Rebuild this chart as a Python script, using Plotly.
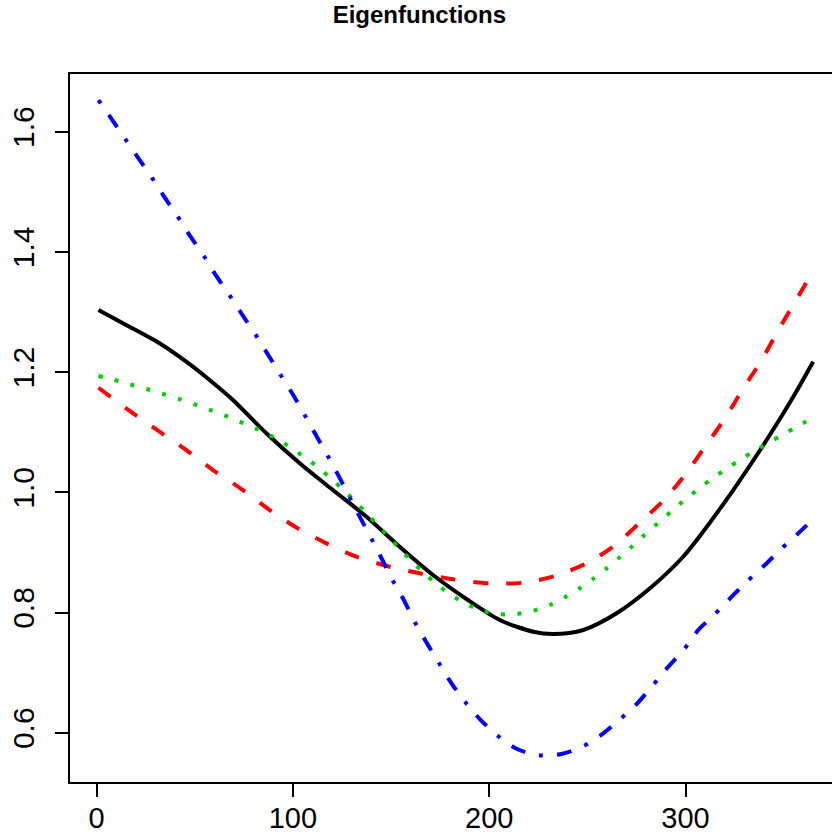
import plotly.graph_objects as go

# ---- data ----
black_x = [1, 15.1, 32.1, 45.7, 57.6, 69.5, 86.5, 103.5, 120.4, 137.5, 154.4, 171.4, 188.4,
           205.4, 222.4, 232.6, 247.9, 264.9, 281.9, 298.8, 307.3, 324.3, 341.3, 354.9, 365]
black_y = [1.3033, 1.2784, 1.2479, 1.2173, 1.1869, 1.1536, 1.0982, 1.0483, 1.0038, 0.9594,
           0.9095, 0.8624, 0.8225, 0.7875, 0.7681, 0.7642, 0.7709, 0.7987, 0.8403, 0.8928,
           0.9273, 1.0038, 1.0870, 1.1591, 1.2173]

red_x = [1, 15.1, 32.1, 45.7, 59.3, 74.6, 88.2, 101.8, 117.1, 132.4, 149.3, 164.6, 181.6,
         200.3, 217.3, 233.4, 249.6, 263.5, 276.8, 289.5, 300.6, 309.9, 320.1, 329.4, 338.8,
         347.3, 355.8, 365]
red_y = [1.174, 1.1398, 1.1008, 1.0704, 1.0371, 1.0038, 0.9705, 0.9414, 0.9151, 0.8928,
         0.8762, 0.8652, 0.8552, 0.8486, 0.8496, 0.8607, 0.8819, 0.9106, 0.9498, 0.9888,
         1.0329, 1.0759, 1.1231, 1.1730, 1.2201, 1.2701, 1.3171, 1.3682]

green_x = [1, 9.2, 17.7, 26.1, 34.3, 42.7, 50.8, 58.9, 66.9, 74.9, 82.8, 90.7, 98.0, 105.1,
           112.0, 118.8, 125.2, 131.5, 137.5, 143.6, 149.7, 155.5, 161.6, 167.9, 174.5,
           181.4, 189.1, 197.0, 205.4, 213.9, 222.4, 230.9, 238.5, 245.8, 253.0, 259.8,
           266.6, 273.0, 279.5, 286.1, 292.6, 299.2, 306.0, 313.0, 320.1, 327.4, 334.7,
           342.4, 349.8, 357.3, 364.8]
green_y = [1.1935, 1.1869, 1.179, 1.1714, 1.1631, 1.1547, 1.1453, 1.1358, 1.1258, 1.1148,
           1.1037, 1.0908, 1.0765, 1.0604, 1.0438, 1.025, 1.0055, 0.9855, 0.965, 0.9439,
           0.9228, 0.9023, 0.8819, 0.8624, 0.8441, 0.8275, 0.813, 0.8025, 0.7972, 0.7975,
           0.803, 0.8125, 0.8253, 0.8396, 0.8562, 0.8735, 0.8923, 0.9107, 0.9301, 0.9493,
           0.9677, 0.9864, 1.0038, 1.0216, 1.0376, 1.0532, 1.0682, 1.0825, 1.0965, 1.1103,
           1.1241]

blue_x = [1, 7.8, 14.6, 21.4, 28.2, 34.7, 41.4, 47.9, 54.7, 61.0, 67.8, 74.3, 80.9, 87.3,
          93.6, 100.1, 106.0, 112.0, 117.7, 123.5, 128.9, 134.5, 140.2, 145.6, 151.0, 156.5,
          162.3, 168.3, 174.5, 180.8, 187.9, 195.7, 204.5, 214.2, 225.4, 236.8, 248.2,
          258.1, 266.9, 275.4, 283.5, 291.2, 299.4, 306.5, 315.0, 323.5, 331.7, 340.4,
          349.0, 357.4, 365]
blue_y = [1.6527, 1.6206, 1.5879, 1.5557, 1.5235, 1.4908, 1.4586, 1.4253, 1.3932, 1.36,
          1.3278, 1.295, 1.2629, 1.2293, 1.1963, 1.1624, 1.1286, 1.0937, 1.0609, 1.026,
          0.9917, 0.9567, 0.9218, 0.8874, 0.8524, 0.8208, 0.783, 0.7488, 0.7155, 0.6822,
          0.6506, 0.6211, 0.5945, 0.5729, 0.5624, 0.5646, 0.5779, 0.599, 0.6233, 0.6489,
          0.6794, 0.7098, 0.7393, 0.7709, 0.7975, 0.8263, 0.8529, 0.879, 0.9068, 0.9318,
          0.9556]

x_ticks = [0, 100, 200, 300]
x_ticktext = ["0", "100", "200", "300"]
y_ticks = [0.6, 0.8, 1.0, 1.2, 1.4, 1.6]
y_ticktext = ["0.6", "0.8", "1.0", "1.2", "1.4", "1.6"]

FONT = "Liberation Sans, Arial, Helvetica, sans-serif"

fig = go.Figure()
fig.add_trace(go.Scatter(x=black_x, y=black_y, mode="lines", line_shape="spline",
                         line=dict(color="black", width=4, smoothing=0.8), showlegend=False))
fig.add_trace(go.Scatter(x=red_x, y=red_y, mode="lines", line_shape="spline",
                         line=dict(color="#ff0000", width=4, dash="15px,18px", smoothing=0.8),
                         showlegend=False))
fig.add_trace(go.Scatter(x=green_x, y=green_y, mode="lines", line_shape="spline",
                         line=dict(color="#00cd00", width=4, dash="4px,12.5px", smoothing=0.8),
                         showlegend=False))
fig.add_trace(go.Scatter(x=blue_x, y=blue_y, mode="lines", line_shape="spline",
                         line=dict(color="#0000ff", width=4, dash="4px,14px,15px,14px",
                                   smoothing=0.8),
                         showlegend=False))

fig.update_layout(
    width=832, height=836,
    margin=dict(l=70, r=0, t=74, b=54, autoexpand=False),
    paper_bgcolor="white", plot_bgcolor="white",
    title=dict(text="<b>Eigenfunctions</b>", x=0.504, xanchor="center",
               y=1 - 15 / 836, yanchor="middle", yref="container",
               font=dict(family=FONT, size=24, color="black")),
    font=dict(family=FONT, color="black"),
)
fig.update_xaxes(range=[-13.5, 374.6], tickvals=x_ticks, ticktext=x_ticktext,
                 automargin=False, ticklabelstandoff=-4,
                 showgrid=False, zeroline=False, showline=True, linecolor="black",
                 linewidth=1.5, mirror=True, ticks="outside", ticklen=13, tickwidth=1.5,
                 tickcolor="black", tickfont=dict(size=29, family=FONT, color="black"))
fig.update_yaxes(range=[0.518, 1.696], tickvals=y_ticks, ticktext=y_ticktext,
                 automargin=False, ticklabelstandoff=9,
                 showgrid=False, zeroline=False, showline=True, linecolor="black",
                 linewidth=1.5, mirror=False, ticks="outside", ticklen=13, tickwidth=1.5,
                 tickcolor="black", tickangle=-90,
                 tickfont=dict(size=30, family=FONT, color="black"))

# remove the page's default 8px body margin so the figure sits at the window's corner
fig.write_html("out.html", config={"displayModeBar": False},
               post_script="document.body.style.margin='0';document.body.style.overflow='hidden';")
